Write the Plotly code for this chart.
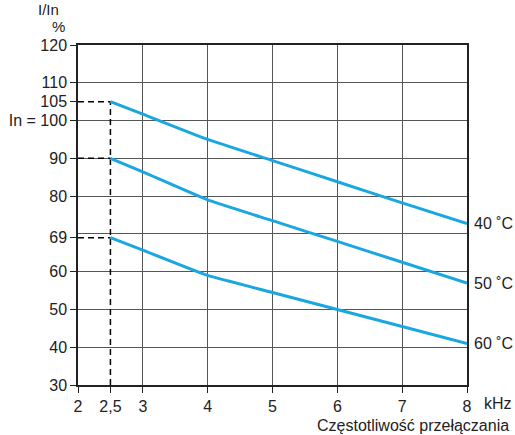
import plotly.graph_objects as go

freq_khz = [2.5, 3, 4, 5, 6, 7, 8]
i_40c = [105, 101.7, 95, 89.4, 83.8, 78.2, 72.7]
i_50c = [90, 86.4, 79, 73.5, 68.0, 62.5, 57]
i_60c = [69, 65.7, 59, 54.5, 50.0, 45.5, 41]
series_labels = ["40 ˚C", "50 ˚C", "60 ˚C"]

x_tick_vals = [2, 2.5, 3, 4, 5, 6, 7, 8]
x_tick_text = ["2", "2,5", "3", "4", "5", "6", "7", "8"]
y_tick_vals = [30, 40, 50, 60, 69, 80, 90, 100, 105, 110, 120]
y_tick_text = ["30", "40", "50", "60", "69", "80", "90", "In = 100", "105", "110", "120"]
x_grid = [2, 3, 4, 5, 6, 7, 8]
y_grid = [30, 40, 50, 60, 70, 80, 90, 100, 110, 120]
ref_freq = 2.5
ref_levels = [105, 90, 69]

BLUE = "#1AA7E1"
FONT = "Liberation Sans, Arial, sans-serif"
TXT = "#222222"
FS = 16

fig = go.Figure()

# dashed reference lines
fig.add_trace(go.Scatter(
    x=[ref_freq, ref_freq], y=[30, max(ref_levels)], mode="lines",
    line=dict(color="black", width=1.5, dash="6px,4px"), showlegend=False, hoverinfo="skip"))
for lv in ref_levels:
    fig.add_trace(go.Scatter(
        x=[2, ref_freq], y=[lv, lv], mode="lines",
        line=dict(color="black", width=1.5, dash="6px,4px"), showlegend=False, hoverinfo="skip"))

for ys, lab in zip([i_40c, i_50c, i_60c], series_labels):
    fig.add_trace(go.Scatter(x=freq_khz, y=ys, mode="lines", line_shape="spline",
                             line=dict(color=BLUE, width=3, smoothing=0.4),
                             showlegend=False, hoverinfo="skip"))
    fig.add_annotation(x=freq_khz[-1], y=ys[-1], text=lab, showarrow=False,
                       xanchor="left", yanchor="middle", xshift=5,
                       font=dict(family=FONT, size=FS, color=TXT))

fig.update_xaxes(range=[2, 8], tickmode="array", tickvals=x_tick_vals, ticktext=x_tick_text,
                 showgrid=False, zeroline=False, ticks="outside", ticklen=6, tickcolor="#222",
                 showline=True, linecolor="#222", linewidth=1.5, mirror=True, automargin=False,
                 tickfont=dict(family=FONT, size=FS, color=TXT),
                 minor=dict(tickmode="array", tickvals=x_grid, showgrid=True,
                            gridcolor="#555", gridwidth=1.3, ticks=""))
fig.update_yaxes(range=[30, 120], tickmode="array", tickvals=y_tick_vals, ticktext=y_tick_text,
                 showgrid=False, zeroline=False, ticks="outside", ticklen=6, tickcolor="#222",
                 showline=True, linecolor="#222", linewidth=1.5, mirror=True, automargin=False,
                 tickfont=dict(family=FONT, size=FS, color=TXT),
                 minor=dict(tickmode="array", tickvals=y_grid, showgrid=True,
                            gridcolor="#555", gridwidth=1.3, ticks=""))

fig.add_annotation(x=8, y=0, xref="x", yref="paper", text="kHz", showarrow=False,
                   xanchor="left", yanchor="top", xshift=15, yshift=-8,
                   font=dict(family=FONT, size=FS, color=TXT))
fig.add_annotation(x=1, y=0, xref="paper", yref="paper", text="Częstotliwość przełączania",
                   showarrow=False, xanchor="right", yanchor="top", xshift=44, yshift=-30,
                   font=dict(family=FONT, size=FS, color=TXT))
fig.add_annotation(x=0, y=1, xref="paper", yref="paper", text="I/In", showarrow=False,
                   xanchor="right", yanchor="bottom", xshift=-17, yshift=25,
                   font=dict(family=FONT, size=15, color=TXT))
fig.add_annotation(x=0, y=1, xref="paper", yref="paper", text="%", showarrow=False,
                   xanchor="right", yanchor="bottom", xshift=-11, yshift=8,
                   font=dict(family=FONT, size=15, color=TXT))

fig.update_layout(width=515, height=435, margin=dict(l=78, r=48, t=45, b=50),
                  paper_bgcolor="white", plot_bgcolor="white",
                  font=dict(family=FONT, size=FS, color=TXT))

fig.write_html("out.html", config={"displayModeBar": False},
               post_script="document.body.style.margin='0';document.body.style.overflow='hidden';")
